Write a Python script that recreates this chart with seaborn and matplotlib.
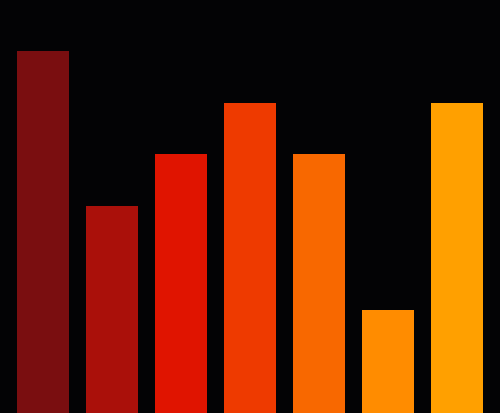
import matplotlib
matplotlib.use("Agg")
import matplotlib.pyplot as plt
import seaborn as sns
import pandas as pd

categories = ["A", "B", "C", "D", "E", "F", "G"]
values = [7, 4, 5, 6, 5, 2, 6]
colors = ["#7A0E10", "#AA100A", "#E01400", "#EE3A00", "#F86800", "#FF8C00", "#FFA000"]

df = pd.DataFrame({"cat": categories, "val": values})

fig = plt.figure(figsize=(5.0, 4.14), dpi=100)
fig.patch.set_facecolor("#030305")
ax = fig.add_axes([0, 0, 1, 1])
ax.set_facecolor("#030305")
sns.barplot(data=df, x="cat", y="val", hue="cat", palette=colors, legend=False,
            width=0.75, ax=ax, saturation=1, linewidth=0)
ax.set_xlim(-0.623, 6.623)
ax.set_ylim(0, 8)
ax.axis("off")
fig.savefig("out.png", dpi=100, facecolor=fig.get_facecolor())
